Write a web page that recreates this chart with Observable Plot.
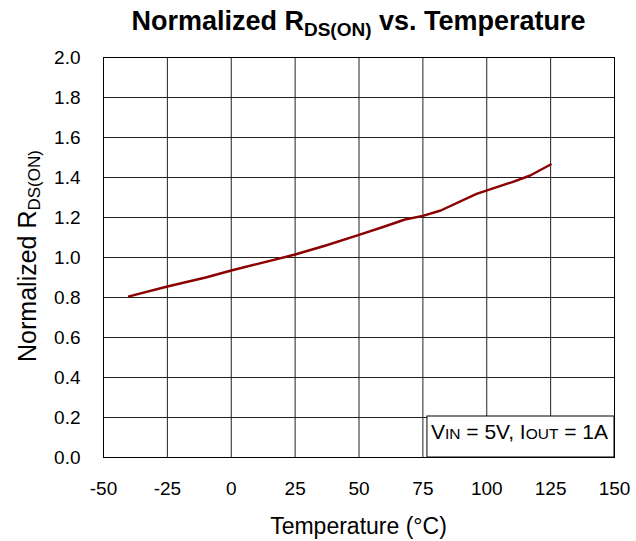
<!DOCTYPE html>
<html><head><meta charset="utf-8">
<script src="https://cdn.jsdelivr.net/npm/d3@7"></script>
<script src="https://cdn.jsdelivr.net/npm/@observablehq/plot@0.6"></script>
<style>
body{margin:0;background:#fff;font-family:"Liberation Sans",Arial,sans-serif;}
#title{height:44px;box-sizing:border-box;padding:0 22px 0 103px;text-align:center;font-weight:bold;font-size:27px;line-height:42px;color:#000;white-space:nowrap;overflow:visible;}
#title sub{font-size:19px;vertical-align:-6px;line-height:0;}
</style></head><body>
<div id="title">Normalized R<sub>DS(ON)</sub> vs. Temperature</div>
<div id="chart"></div>
<script>
const temperature = [-40, -25, -10, 0, 10, 25, 37, 50, 60, 68, 75, 82, 96, 110, 117, 125];
const rdsNorm = [0.806, 0.855, 0.900, 0.935, 0.967, 1.015, 1.060, 1.113, 1.155, 1.190, 1.208, 1.235, 1.318, 1.377, 1.410, 1.465];
const xTicks = [-50, -25, 0, 25, 50, 75, 100, 125, 150];
const yTicks = [0, 0.2, 0.4, 0.6, 0.8, 1.0, 1.2, 1.4, 1.6, 1.8, 2.0];
const xLabel = "Temperature (°C)";
const yLabelParts = [["Normalized R", false], ["DS(ON)", true]];
const noteParts = [["V", false], ["IN", true], [" = 5V, I", false], ["OUT", true], [" = 1A", false]];

const data = temperature.map((t, i) => ({t, r: rdsNorm[i]}));
const font = "'Liberation Sans', Arial, sans-serif";

const chart = Plot.plot({
  width: 636, height: 497,
  marginTop: 13, marginRight: 22, marginBottom: 84, marginLeft: 103,
  style: {background: "#fff", color: "#000", fontFamily: font, fontSize: "19px", overflow: "visible"},
  x: {domain: [-50, 150], ticks: xTicks, tickFormat: d => String(d), tickSize: 0, tickPadding: 24, label: null},
  y: {domain: [0, 2], ticks: yTicks, tickFormat: d => d.toFixed(1), tickSize: 0, tickPadding: 23, label: null},
  marks: [
    Plot.ruleX(xTicks, {stroke: "#222", strokeWidth: 1}),
    Plot.ruleY(yTicks, {stroke: "#222", strokeWidth: 1}),
    Plot.frame({stroke: "#000", strokeWidth: 1}),
    Plot.line(data, {x: "t", y: "r", stroke: "#8b0000", strokeWidth: 2.4, curve: "linear"})
  ]
});
document.getElementById("chart").appendChild(chart);

const sx = chart.scale("x"), sy = chart.scale("y");
const svg = d3.select(chart);
const xl = sx.apply(-50), xr = sx.apply(150);
const yt = sy.apply(2), yb = sy.apply(0);

// x axis label
svg.append("text")
  .attr("x", (xl + xr) / 2).attr("y", yb + 77)
  .attr("text-anchor", "middle")
  .attr("font-family", font).attr("font-size", 23).attr("fill", "#000")
  .text(xLabel);

// y axis label with subscript
const yl = svg.append("text")
  .attr("transform", `translate(36,${(yt + yb) / 2 - 1}) rotate(-90)`)
  .attr("text-anchor", "middle")
  .attr("font-family", font).attr("font-size", 25).attr("fill", "#000");
yLabelParts.forEach(([s, sub]) => {
  const ts = yl.append("tspan").text(s);
  if (sub) ts.attr("font-size", 17).attr("dy", 4);
});

// annotation box
const g = svg.append("g");
const rect = g.append("rect");
const nt = g.append("text")
  .attr("x", xr - 6).attr("y", yb - 18)
  .attr("text-anchor", "end")
  .attr("font-family", font).attr("font-size", 21).attr("fill", "#000");
noteParts.forEach(([s, sub]) => {
  const ts = nt.append("tspan").text(s);
  if (sub) ts.attr("font-size", 15.5);
});
const bb = nt.node().getBBox();
rect.attr("x", bb.x - 4).attr("y", yb - 41)
  .attr("width", xr - bb.x + 4).attr("height", 41)
  .attr("fill", "#fff").attr("stroke", "#000").attr("stroke-width", 1);
</script>
</body></html>
